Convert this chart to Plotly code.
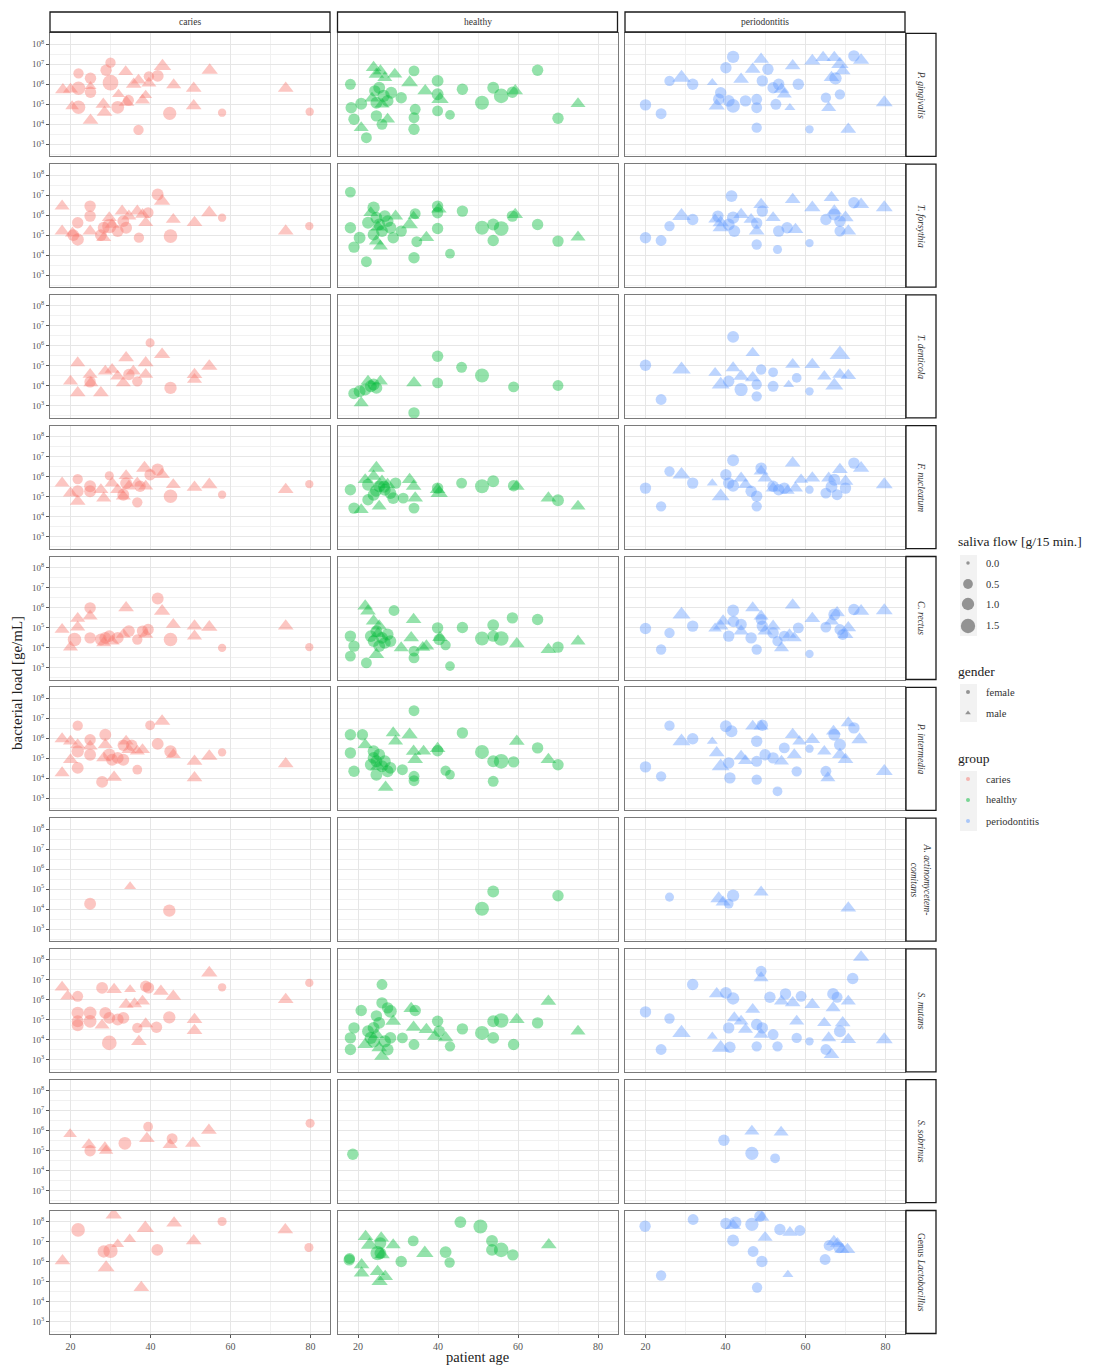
import plotly.graph_objects as go

# ---------------------------------------------------------------------------
# Data: (patient age, log10 bacterial load [ge/mL], saliva flow [g/15 min], gender)
# ---------------------------------------------------------------------------
GROUPS = ["caries", "healthy", "periodontitis"]
GROUP_COLORS = ["#F8766D", "#00BA38", "#619CFF"]

PG_CARIES = [(18.1,5.72,0.9,'m'),(20.0,5.75,0.8,'m'),(20.4,4.9,0.6,'m'),(22,6.55,0.6,'f'),(22,5.8,1.3,'f'),(22,4.85,1.3,'f'),(25,6.3,0.8,'f'),(25,5.6,0.8,'f'),(25,5.9,0.4,'m'),(25,4.2,0.9,'m'),(28.9,6.7,0.8,'f'),(30,7.08,0.6,'f'),(30,6.08,1.9,'f'),(28.2,5.0,0.9,'m'),(28.5,4.6,0.9,'m'),(31.8,4.85,1.1,'f'),(32,5.5,0.5,'m'),(33.8,6.63,0.8,'m'),(34,5.1,0.9,'m'),(34.5,5.2,0.7,'f'),(35.8,6.0,0.9,'m'),(37,6.2,0.8,'m'),(37,3.72,0.6,'f'),(38,5.2,0.8,'m'),(38.8,5.45,0.5,'m'),(39.6,6.4,0.6,'f'),(39.6,6.05,0.8,'m'),(41.8,6.42,0.9,'f'),(43,6.9,1.2,'m'),(44.8,4.55,1.2,'f'),(45.8,5.97,0.8,'m'),(50.8,5.8,0.9,'m'),(50.8,4.92,0.9,'m'),(54.8,6.7,1.0,'m'),(57.9,4.58,0.3,'f'),(73.8,5.8,0.9,'m'),(79.8,4.63,0.3,'f')]
PG_HEALTHY = [(18.1,6.0,0.7,'f'),(18.3,4.83,0.8,'f'),(19,4.25,0.8,'f'),(20.8,5.03,0.9,'f'),(20.8,3.83,0.8,'m'),(22.1,3.33,0.7,'f'),(23.9,6.83,0.9,'m'),(24.6,6.5,0.9,'m'),(24.2,5.67,0.8,'f'),(25.6,6.67,0.8,'m'),(26.7,6.33,0.8,'m'),(29.2,6.5,0.8,'m'),(25.3,5.83,0.9,'f'),(26.4,5.42,1.0,'f'),(27.4,5.17,0.9,'f'),(24.6,5.08,0.9,'f'),(28.3,5.58,0.9,'f'),(27.4,4.25,0.8,'m'),(26,4.0,0.7,'f'),(24.6,4.42,0.8,'f'),(23.5,5.3,0.8,'m'),(26,5.0,0.8,'m'),(30.8,5.33,0.8,'f'),(34,6.67,0.7,'f'),(32.9,6.08,1.1,'m'),(34.3,4.75,0.7,'f'),(34,4.33,0.7,'f'),(34,3.75,0.8,'f'),(36.8,5.67,0.9,'m'),(39.9,6.17,0.9,'f'),(40.5,5.25,1.2,'m'),(39.9,5.5,0.9,'f'),(39.9,4.67,0.7,'f'),(43,4.47,0.5,'f'),(46.1,5.75,0.8,'f'),(51,5.08,1.4,'f'),(53.8,5.83,0.9,'f'),(55.8,5.42,1.6,'f'),(58.6,5.6,0.8,'f'),(59.3,5.67,0.9,'m'),(64.9,6.7,0.8,'f'),(70,4.3,0.8,'f'),(75,5.03,0.8,'m')]
PG_PERIO = [(20,4.97,0.8,'f'),(23.9,4.53,0.7,'f'),(26,6.17,0.6,'f'),(29,6.33,1.4,'m'),(31.8,6.0,0.8,'f'),(36.7,6.08,0.3,'m'),(38.3,5.25,0.8,'f'),(38.8,5.58,0.8,'f'),(37.8,4.92,1.0,'m'),(40.8,5.17,0.9,'f'),(40.1,6.83,0.8,'f'),(41.9,7.37,1.0,'f'),(41.9,4.92,1.3,'f'),(43.9,6.25,0.9,'m'),(45,5.17,0.8,'f'),(47.8,5.25,0.7,'f'),(47.8,4.83,0.7,'f'),(47.8,3.83,0.6,'f'),(46.8,6.75,0.9,'m'),(48.9,7.25,0.9,'m'),(49.2,6.17,0.8,'f'),(50.6,6.75,0.8,'f'),(51.9,5.83,0.8,'f'),(52.6,5.0,0.7,'f'),(54,5.75,0.9,'m'),(54.7,5.5,0.8,'m'),(53.3,6.0,0.8,'f'),(56.8,6.92,0.9,'m'),(56.1,4.83,0.3,'m'),(58.2,6.0,0.8,'f'),(61,3.75,0.3,'f'),(61.7,7.17,1.0,'m'),(64.4,7.33,0.9,'m'),(67.2,7.33,0.9,'m'),(65.1,5.33,0.6,'f'),(68.6,5.5,0.6,'f'),(67.5,6.3,1.0,'f'),(65.8,4.83,0.8,'m'),(66.5,6.33,0.9,'m'),(68.6,7.0,1.2,'m'),(69.3,6.67,0.9,'m'),(70.7,3.75,0.9,'m'),(72.1,7.42,0.8,'f'),(73.9,7.2,1.0,'m'),(79.7,5.08,1.1,'m')]

TF_CARIES = [(17.9,6.45,0.8,'m'),(17.9,5.2,0.8,'m'),(20.7,5.0,0.9,'f'),(21.8,4.78,1.0,'f'),(20.5,5.1,0.8,'m'),(21.8,5.62,0.8,'f'),(24.9,6.45,0.8,'f'),(24.9,5.95,0.8,'f'),(24.9,5.2,0.8,'m'),(27.6,5.0,0.9,'f'),(28.3,5.37,0.9,'f'),(28.3,4.87,0.8,'m'),(29.7,5.87,0.8,'m'),(30.4,5.53,0.8,'m'),(29.7,5.45,1.5,'f'),(31.8,5.2,0.9,'f'),(33.2,5.7,0.9,'f'),(33.9,5.37,0.9,'f'),(32.9,6.2,0.8,'m'),(34.6,5.95,0.8,'m'),(36.7,6.2,0.8,'m'),(38,6.03,0.8,'m'),(37.1,4.87,0.6,'f'),(39.4,6.12,0.7,'f'),(38.8,5.62,0.8,'m'),(41.8,7.03,0.9,'f'),(42.9,6.7,1.0,'m'),(45.7,5.78,0.8,'m'),(45,4.95,1.3,'f'),(51,5.62,0.9,'m'),(54.7,6.12,1.0,'m'),(57.9,5.87,0.3,'f'),(73.8,5.2,0.9,'m'),(79.7,5.45,0.3,'f')]
TF_HEALTHY = [(18.1,7.15,0.7,'f'),(18.1,5.37,0.8,'f'),(19,4.4,0.8,'f'),(20.4,4.87,0.9,'f'),(22.1,3.67,0.7,'f'),(23.2,6.12,0.8,'m'),(23.9,6.37,1.0,'f'),(24.6,5.87,0.9,'f'),(25.3,5.53,0.9,'f'),(26,5.2,0.9,'f'),(23.9,5.03,0.9,'f'),(26.7,5.95,0.9,'f'),(27.4,5.7,0.9,'f'),(28.1,5.37,0.9,'f'),(28.8,4.87,0.8,'f'),(24.6,4.7,0.8,'m'),(25.6,4.45,0.8,'m'),(22.5,5.62,0.9,'f'),(29.4,5.95,0.8,'m'),(25,5.4,0.9,'m'),(30.8,5.2,0.8,'f'),(32.9,5.53,1.1,'m'),(33.9,5.95,0.4,'m'),(34.3,6.07,0.7,'f'),(34.7,4.67,0.7,'f'),(34,3.87,0.8,'f'),(37.1,4.87,0.9,'m'),(39.9,6.45,0.8,'f'),(39.9,6.12,0.8,'f'),(40.2,6.3,0.9,'m'),(39.9,5.33,0.8,'f'),(43,4.07,0.5,'f'),(46.1,6.2,0.8,'f'),(51,5.37,1.4,'f'),(53.8,5.53,0.9,'f'),(53.8,4.73,0.8,'f'),(55.8,5.33,1.6,'f'),(58.6,5.95,0.8,'f'),(59.3,6.03,0.9,'m'),(64.9,5.53,0.8,'f'),(70,4.7,0.8,'f'),(75,4.9,0.8,'m')]
TF_PERIO = [(20,4.87,0.8,'f'),(23.9,4.73,0.7,'f'),(26,5.45,0.6,'f'),(29,5.95,1.4,'m'),(31.8,5.78,0.8,'f'),(37.4,5.78,0.6,'m'),(38.8,5.62,1.0,'m'),(38.8,5.37,1.0,'m'),(38.1,5.95,0.8,'f'),(41.5,6.95,0.9,'f'),(41.9,5.87,1.0,'f'),(40.8,5.53,0.9,'f'),(42.2,5.2,0.9,'f'),(43.9,6.03,0.9,'m'),(46.4,5.78,0.8,'m'),(47.8,5.2,0.9,'m'),(47.8,4.53,0.6,'f'),(48.9,6.53,0.9,'m'),(49.2,6.2,0.8,'f'),(47.8,5.6,0.8,'f'),(51.9,5.87,0.8,'m'),(53.3,5.2,0.8,'f'),(55.4,5.37,0.8,'f'),(53,4.28,0.4,'f'),(56.8,6.78,0.9,'m'),(57.5,5.28,0.9,'m'),(61,4.6,0.3,'f'),(61.7,6.37,1.0,'m'),(65.1,5.78,0.8,'f'),(67.2,6.03,0.9,'f'),(68.6,5.7,0.8,'f'),(66.5,6.87,0.9,'m'),(67.2,6.2,0.9,'m'),(70,5.87,1.0,'m'),(68.6,5.2,0.7,'f'),(70.7,5.2,0.9,'m'),(72.1,6.62,0.8,'f'),(73.9,6.53,1.0,'m'),(79.7,6.37,1.1,'m')]

TD_CARIES = [(20,4.23,0.8,'m'),(21.8,5.15,0.8,'m'),(21.8,3.65,0.9,'m'),(24.9,4.57,0.8,'m'),(25.1,4.15,0.8,'m'),(24.9,4.2,0.8,'f'),(27.6,3.65,0.9,'m'),(28.7,4.73,0.8,'m'),(30.4,4.82,0.8,'m'),(31.8,4.48,0.8,'m'),(33.2,4.15,0.8,'m'),(33.9,5.4,0.9,'m'),(34.6,4.57,0.8,'f'),(36.7,4.23,0.6,'f'),(35.7,4.73,0.8,'m'),(38.8,4.57,0.8,'m'),(39.9,6.15,0.4,'f'),(38.8,5.15,0.9,'m'),(42.9,5.57,1.0,'m'),(45,3.9,1.0,'f'),(51,4.57,0.9,'m'),(51,4.32,0.8,'m'),(54.7,4.98,1.0,'m')]
TD_HEALTHY = [(19,3.62,0.8,'f'),(20.8,3.15,0.8,'m'),(21.8,3.82,0.9,'f'),(23.2,3.98,0.9,'f'),(23.9,4.07,0.9,'f'),(24.6,3.9,0.9,'f'),(22.5,4.23,0.8,'m'),(25.6,4.23,0.8,'m'),(20.4,3.73,0.9,'f'),(34,4.15,0.9,'m'),(34,2.65,0.8,'f'),(39.9,5.48,0.8,'f'),(39.9,4.15,0.7,'f'),(45.9,4.93,0.7,'f'),(51,4.52,1.4,'f'),(58.9,3.95,0.7,'f'),(70,4.02,0.7,'f')]
TD_PERIO = [(20,5.03,0.8,'f'),(23.9,3.32,0.7,'f'),(29,4.82,1.4,'m'),(37.4,4.65,0.6,'m'),(38.8,4.07,1.3,'m'),(40.8,4.23,0.8,'f'),(41.9,6.45,0.9,'f'),(41.9,4.9,0.8,'m'),(43.9,4.48,0.9,'m'),(43.9,3.82,1.2,'f'),(46.8,5.65,0.7,'m'),(46.8,4.4,0.9,'m'),(47.8,3.48,0.6,'f'),(48.9,4.82,0.6,'f'),(51.9,4.68,0.5,'f'),(51.9,3.98,0.7,'f'),(47.8,4.07,0.6,'f'),(55.8,4.07,0.3,'m'),(57.8,4.4,0.5,'f'),(56.8,5.07,0.8,'m'),(61,3.73,0.3,'f'),(61.7,5.07,0.9,'m'),(64.7,4.48,0.7,'m'),(67.2,4.02,1.3,'m'),(68.6,5.57,1.9,'m'),(68.6,4.57,0.8,'m'),(70.7,4.52,0.9,'m')]

FN_CARIES = [(17.9,5.68,0.8,'m'),(20,5.18,0.8,'m'),(21.8,5.88,0.6,'f'),(21.8,4.77,0.9,'m'),(21.8,5.27,0.9,'f'),(24.9,5.52,0.9,'f'),(24.9,5.27,0.9,'f'),(27.6,5.35,0.8,'m'),(28.3,4.93,0.8,'m'),(29.7,6.05,0.4,'f'),(30.4,5.68,0.8,'m'),(31.8,5.35,0.8,'m'),(33.2,5.02,0.8,'m'),(33.2,5.1,0.9,'f'),(33.9,5.68,0.9,'f'),(33.9,6.05,0.8,'m'),(34.6,5.52,0.8,'m'),(36.7,5.68,0.8,'m'),(38.5,6.43,1.1,'m'),(36.7,4.72,0.6,'f'),(37.4,5.52,0.8,'f'),(39.9,6.1,0.8,'f'),(41.8,6.35,1.0,'f'),(38.8,5.52,0.8,'m'),(42.9,6.1,0.9,'m'),(45,5.02,1.3,'f'),(45.7,5.6,0.8,'m'),(51,5.47,0.9,'m'),(54.7,5.6,1.0,'m'),(57.9,5.1,0.3,'f'),(73.8,5.35,0.9,'m'),(79.7,5.63,0.3,'f')]
FN_HEALTHY = [(18.1,5.35,0.8,'f'),(19,4.43,0.8,'f'),(20.8,4.35,0.8,'m'),(21.8,5.85,0.8,'m'),(22.5,5.6,0.9,'f'),(23.9,6.02,0.9,'m'),(24.6,6.43,1.1,'m'),(25.3,5.52,0.9,'f'),(26,5.77,0.9,'m'),(26.7,5.35,0.9,'f'),(27.4,5.6,0.9,'m'),(28.1,5.18,0.9,'f'),(23.9,5.1,0.9,'f'),(22.5,4.85,0.8,'f'),(25.3,4.52,0.8,'m'),(28.8,4.93,0.9,'f'),(29.4,5.68,0.8,'f'),(24.5,5.3,0.9,'f'),(26.5,5.5,0.9,'f'),(32.9,5.85,0.9,'m'),(33.9,5.52,0.9,'m'),(34.3,4.93,0.9,'m'),(31.3,4.93,0.7,'f'),(34,4.43,0.7,'f'),(39.9,5.35,0.9,'m'),(40.3,5.18,1.2,'m'),(39.9,5.43,0.8,'f'),(45.9,5.68,0.7,'f'),(51,5.52,1.4,'f'),(53.8,5.77,0.9,'f'),(58.9,5.55,0.8,'f'),(59.7,5.52,0.9,'m'),(67.6,4.93,0.9,'m'),(70,4.82,0.9,'f'),(75,4.52,0.8,'m')]
FN_PERIO = [(20,5.43,0.8,'f'),(23.9,4.52,0.6,'f'),(26,6.27,0.6,'f'),(29,6.1,1.3,'m'),(31.8,5.68,0.8,'f'),(36.7,5.68,0.3,'m'),(38.8,5.02,1.3,'m'),(40.1,6.1,0.8,'f'),(41.9,6.82,0.9,'f'),(41.9,5.55,0.9,'f'),(40.8,5.68,0.8,'f'),(43.9,5.93,0.8,'m'),(45,5.6,0.8,'m'),(46.4,5.27,0.8,'f'),(47.8,5.02,0.8,'f'),(47.8,4.52,0.6,'f'),(48.9,6.43,0.8,'f'),(48.9,6.27,0.8,'m'),(49.9,5.93,0.8,'m'),(51.9,5.43,0.8,'m'),(51.9,5.52,0.8,'f'),(53.3,5.35,0.8,'f'),(54.7,5.43,0.8,'f'),(56.8,6.68,0.9,'m'),(57.5,5.43,0.8,'m'),(55.5,5.3,0.7,'m'),(61,5.35,0.3,'f'),(58.9,5.85,0.7,'m'),(61.7,5.93,0.9,'m'),(65.1,5.18,0.7,'f'),(67.2,5.85,0.9,'f'),(67.9,5.1,0.7,'f'),(65.8,5.93,0.8,'m'),(68.6,6.35,0.9,'m'),(70,5.77,0.9,'m'),(66.5,5.5,0.9,'f'),(70,5.43,0.8,'f'),(72.1,6.68,0.8,'f'),(73.9,6.43,1.0,'m'),(79.7,5.6,1.1,'m')]

CR_CARIES = [(17.9,4.9,0.8,'m'),(20,4.02,0.8,'m'),(21.8,5.45,0.8,'m'),(21.8,5.02,0.8,'m'),(21,4.4,1.3,'f'),(24.9,5.98,0.8,'f'),(24.9,5.57,0.8,'m'),(24.9,4.48,0.8,'f'),(27.6,4.4,0.9,'f'),(28.7,4.48,0.9,'f'),(29.7,4.57,0.9,'f'),(30.4,4.32,0.8,'m'),(31.8,4.48,0.9,'f'),(33.2,4.65,0.8,'m'),(28.3,4.23,0.8,'m'),(33.9,5.98,0.9,'m'),(34.6,4.82,0.9,'f'),(36.7,4.4,0.6,'f'),(38,4.82,0.8,'f'),(38.8,4.65,0.8,'m'),(39.4,4.9,0.8,'f'),(41.8,6.45,0.9,'f'),(42.9,5.82,1.0,'m'),(45.7,5.15,0.8,'m'),(45,4.4,1.3,'f'),(51,5.07,0.9,'m'),(51,4.57,0.8,'m'),(54.7,5.02,1.0,'m'),(57.9,3.98,0.3,'f'),(73.8,5.07,0.9,'m'),(79.7,4.02,0.3,'f')]
CR_HEALTHY = [(21.8,6.07,0.9,'m'),(22.5,5.82,0.9,'m'),(18.1,4.57,0.8,'f'),(18.1,3.57,0.7,'f'),(19,4.07,0.8,'f'),(23.9,5.32,0.9,'m'),(24.6,4.82,0.9,'f'),(25.3,5.07,0.9,'m'),(26,4.48,0.9,'f'),(23.9,4.32,0.9,'f'),(26.7,4.23,0.9,'f'),(23.2,4.57,0.9,'f'),(25.3,4.07,0.9,'f'),(27.4,4.65,0.9,'f'),(28.1,4.32,0.9,'f'),(22.1,3.23,0.7,'f'),(24.6,3.65,0.9,'m'),(25,4.7,0.9,'m'),(29,5.85,0.7,'f'),(30.8,3.98,0.8,'m'),(33.9,5.4,0.9,'m'),(33.3,4.48,0.9,'m'),(34,3.82,0.7,'f'),(34,3.48,0.7,'f'),(37.1,4.07,0.9,'m'),(36.2,4.0,0.8,'m'),(39.9,4.98,0.8,'f'),(40.3,4.4,0.8,'f'),(40.5,4.5,0.9,'m'),(41.9,4.12,0.6,'f'),(43,3.07,0.5,'f'),(46.1,5.0,0.8,'f'),(51,4.45,1.4,'f'),(53.8,5.12,0.9,'f'),(53.8,4.57,0.8,'f'),(55.8,4.45,1.6,'f'),(58.6,5.48,0.8,'f'),(59.7,4.18,0.9,'m'),(64.9,5.4,0.8,'f'),(67.6,3.9,0.9,'m'),(70,4.02,0.8,'f'),(75,4.32,0.8,'m')]
CR_PERIO = [(20,4.95,0.8,'f'),(23.9,3.9,0.6,'f'),(26,4.73,0.6,'f'),(29,5.65,1.3,'m'),(31.8,5.07,0.8,'f'),(37.4,4.95,0.6,'m'),(38.8,5.07,0.9,'m'),(39.4,5.32,0.9,'m'),(41.9,5.85,0.9,'f'),(40.8,4.57,0.8,'f'),(43.9,5.15,0.8,'f'),(42,5.3,0.8,'f'),(43.9,4.82,0.8,'m'),(46.8,5.98,0.8,'m'),(48.9,5.57,0.8,'m'),(46.4,4.48,0.8,'f'),(47.8,3.9,0.6,'f'),(49.2,5.07,0.8,'f'),(48.9,5.4,0.7,'f'),(49.9,4.82,0.8,'m'),(51.9,5.07,0.8,'m'),(51.9,4.73,0.8,'f'),(53,4.32,0.6,'f'),(54.7,4.57,0.7,'f'),(54,3.98,0.8,'m'),(56.8,6.12,0.9,'m'),(57.2,4.48,0.8,'m'),(56,4.65,0.7,'m'),(58.2,4.98,0.7,'f'),(61,3.68,0.3,'f'),(61.7,5.45,0.9,'m'),(65.1,5.02,0.7,'f'),(67.2,5.65,0.9,'f'),(68.6,4.9,0.7,'f'),(66.5,5.32,0.8,'m'),(67.9,5.73,0.9,'m'),(70,4.65,0.9,'m'),(70.7,4.98,0.9,'m'),(69.3,4.65,0.7,'f'),(72.1,5.9,0.8,'f'),(73.9,5.82,1.0,'m'),(79.7,5.85,1.1,'m')]

PI_CARIES = [(17.9,5.97,0.8,'m'),(17.9,4.27,0.8,'m'),(21.8,6.63,0.6,'f'),(20,5.85,0.8,'m'),(21.8,5.68,0.8,'m'),(21.8,5.35,1.0,'f'),(21.8,4.52,0.9,'f'),(20,4.93,0.8,'m'),(24.9,5.93,0.8,'f'),(24.9,5.18,0.9,'f'),(24.9,5.6,0.8,'m'),(28.7,6.18,0.9,'f'),(28.3,5.02,0.8,'m'),(28.7,5.68,0.8,'m'),(27.9,3.82,0.9,'f'),(29.7,5.18,1.0,'f'),(30.4,4.93,0.9,'f'),(31.8,5.02,0.9,'f'),(33.2,4.93,0.9,'f'),(30.9,4.05,0.9,'m'),(33.9,5.85,0.8,'m'),(34.6,5.43,0.8,'m'),(36.7,5.35,0.8,'m'),(38,5.43,0.8,'m'),(33.2,5.65,0.8,'f'),(35.3,5.65,0.8,'f'),(36.7,4.43,0.5,'f'),(39.9,6.65,0.5,'f'),(42.9,6.85,1.0,'m'),(41.8,5.72,0.9,'f'),(45,5.35,1.0,'f'),(45.7,5.18,0.8,'m'),(51,4.85,0.9,'m'),(51,4.02,0.9,'m'),(54.7,5.1,1.0,'m'),(57.9,5.3,0.3,'f'),(73.8,4.72,0.9,'m')]
PI_HEALTHY = [(18.1,6.18,0.8,'f'),(18.1,5.27,0.8,'f'),(19,4.35,0.8,'f'),(21.1,6.18,0.8,'f'),(21.8,5.68,0.8,'m'),(23.9,5.02,0.9,'f'),(24.6,4.85,0.9,'f'),(25.3,5.18,0.9,'f'),(23.2,4.68,0.9,'f'),(26,4.6,0.9,'f'),(26.7,4.85,0.9,'f'),(27.4,4.35,0.9,'f'),(24.6,4.18,0.9,'f'),(28.1,4.52,0.9,'f'),(23.9,5.35,0.9,'f'),(25,4.6,0.9,'m'),(26.9,3.55,0.9,'m'),(28.8,6.27,0.8,'m'),(29.4,5.85,0.8,'m'),(31.1,4.43,0.7,'f'),(32.9,6.18,1.0,'m'),(34,7.38,0.7,'f'),(33.9,5.35,0.9,'m'),(34.3,4.93,0.9,'m'),(34,4.1,0.7,'f'),(34,3.88,0.7,'f'),(36.4,5.35,0.8,'m'),(39.9,5.48,0.9,'m'),(39.9,5.38,0.8,'f'),(41.9,4.38,0.6,'f'),(43,4.18,0.5,'f'),(46.1,6.27,0.8,'f'),(51,5.32,1.4,'f'),(53.8,4.85,0.9,'f'),(53.8,3.85,0.7,'f'),(55.8,4.85,1.6,'f'),(58.9,4.82,0.8,'f'),(59.7,5.85,0.9,'m'),(64.9,5.52,0.8,'f'),(67.6,4.93,0.9,'m'),(70,4.68,0.8,'f')]
PI_PERIO = [(20,4.57,0.8,'f'),(23.9,4.1,0.6,'f'),(26,6.63,0.6,'f'),(29,5.85,1.3,'m'),(31.8,5.98,0.8,'f'),(36.7,5.85,0.3,'m'),(37.8,5.27,0.9,'m'),(38.8,4.6,1.3,'m'),(40.1,6.6,0.9,'f'),(41.5,6.35,0.9,'f'),(40.8,4.77,0.8,'f'),(41.1,4.02,0.8,'f'),(43.9,5.1,0.8,'m'),(45,4.88,0.8,'m'),(46.8,6.6,0.8,'m'),(48.9,6.6,0.8,'m'),(47.8,4.85,0.7,'f'),(47.8,3.93,0.6,'f'),(49.2,6.65,0.8,'f'),(47.8,5.85,0.8,'f'),(49.9,5.18,0.8,'f'),(51.9,5.02,0.8,'f'),(53,3.35,0.5,'f'),(54,4.85,0.8,'m'),(56.8,6.18,0.9,'m'),(57.2,5.18,0.8,'m'),(54.7,5.52,0.7,'f'),(57.8,4.35,0.6,'f'),(58.5,5.85,0.7,'m'),(61,5.48,0.3,'f'),(61.7,5.93,0.9,'m'),(64.7,5.35,0.7,'m'),(65.1,4.35,0.7,'f'),(67.2,6.18,0.9,'f'),(68.6,5.68,0.9,'f'),(65.6,4.02,0.8,'m'),(67,6.35,0.8,'m'),(68.6,5.18,0.9,'m'),(70,4.93,0.9,'m'),(70.7,6.77,0.8,'m'),(72.1,6.52,0.8,'f'),(73.5,5.93,1.0,'m'),(79.7,4.35,1.1,'m')]

AA_CARIES = [(24.9,4.27,0.9,'f'),(34.9,5.13,0.4,'m'),(44.7,3.92,1.0,'f')]
AA_HEALTHY = [(51,4.02,1.4,'f'),(53.8,4.88,0.9,'f'),(70,4.67,0.8,'f')]
AA_PERIO = [(26,4.6,0.4,'f'),(38.3,4.52,1.1,'m'),(39.4,4.35,0.8,'m'),(41.9,4.67,1.0,'f'),(40.8,4.27,0.5,'f'),(48.9,4.85,0.8,'m'),(70.7,4.05,0.9,'m')]

SM_CARIES = [(17.9,6.63,0.8,'m'),(19.3,6.18,0.8,'m'),(21.8,6.18,0.7,'f'),(21.8,5.35,1.0,'f'),(21.8,4.93,0.9,'f'),(21.8,4.73,0.9,'f'),(24.9,5.35,1.1,'f'),(24.9,4.93,1.1,'f'),(27.9,6.6,0.9,'f'),(30.9,6.52,0.9,'m'),(28.7,5.35,0.9,'f'),(29.7,5.1,0.9,'f'),(31.8,5.02,0.9,'f'),(33.2,5.1,0.9,'f'),(27.9,4.73,0.8,'m'),(29.7,3.85,1.6,'f'),(34.9,6.52,0.4,'m'),(33.9,5.77,0.8,'m'),(36,5.8,0.8,'m'),(38,5.93,0.8,'m'),(38.8,6.68,0.8,'f'),(39.5,6.6,0.8,'f'),(37.1,3.92,0.9,'m'),(38.8,4.8,0.8,'m'),(36.7,4.6,0.6,'f'),(41.5,4.63,0.8,'f'),(42.6,6.43,0.9,'m'),(45.7,6.18,0.9,'m'),(44.7,5.13,1.0,'f'),(51,5.02,0.9,'m'),(51,4.47,0.9,'m'),(54.7,7.35,1.0,'m'),(57.9,6.63,0.3,'f'),(73.8,6.02,0.9,'m'),(79.7,6.85,0.3,'f')]
SM_HEALTHY = [(20.8,5.47,0.8,'f'),(18.1,4.1,0.8,'f'),(18.1,3.52,0.8,'f'),(19,4.6,0.8,'f'),(22.5,4.43,0.9,'f'),(23.2,4.1,1.0,'f'),(23.9,3.93,1.0,'f'),(24.6,4.27,0.9,'m'),(25.3,3.6,0.9,'m'),(26,3.18,0.9,'m'),(26.7,3.93,1.0,'f'),(27.4,3.52,0.9,'f'),(23.9,4.6,0.9,'f'),(28.1,4.1,0.9,'f'),(21.8,3.77,0.9,'m'),(25.3,4.85,0.9,'f'),(26,6.77,0.7,'f'),(26,5.85,0.8,'f'),(27.4,5.6,0.8,'f'),(28.1,5.43,1.1,'f'),(28.8,4.93,0.9,'m'),(24.6,5.2,0.8,'f'),(31.1,4.1,0.7,'f'),(33.3,5.57,0.9,'m'),(34.3,5.47,0.8,'f'),(33.9,4.63,0.9,'m'),(37.1,4.52,0.9,'m'),(39.2,4.18,0.9,'m'),(34,3.77,0.7,'f'),(39.9,4.93,0.8,'f'),(40.3,4.43,0.8,'f'),(41.9,4.1,0.9,'m'),(43,3.68,0.6,'f'),(46.1,4.55,0.8,'f'),(51,4.35,1.4,'f'),(53.8,4.1,0.9,'f'),(53.8,4.93,0.9,'f'),(55.8,4.97,1.6,'f'),(59.7,5.02,0.9,'m'),(58.9,3.77,0.8,'f'),(64.9,4.85,0.8,'f'),(67.6,5.93,0.9,'m'),(75,4.43,0.8,'m')]
SM_PERIO = [(20,5.4,0.8,'f'),(23.9,3.52,0.7,'f'),(26,5.07,0.6,'f'),(29,4.35,1.4,'m'),(31.8,6.77,0.8,'f'),(36.7,4.18,0.3,'m'),(37.8,6.3,0.9,'m'),(38.8,3.6,1.3,'m'),(40.1,6.35,0.9,'f'),(41.9,6.07,1.0,'f'),(40.8,4.6,0.8,'f'),(41.1,3.63,0.8,'f'),(42.2,5.1,0.8,'m'),(43.9,4.93,0.8,'m'),(45,4.52,0.8,'m'),(46.8,5.52,0.8,'m'),(48.9,7.1,0.8,'m'),(48.9,4.27,0.8,'m'),(48.9,7.43,0.7,'f'),(47.8,4.77,0.8,'f'),(47.8,3.68,0.6,'f'),(49.2,4.6,0.8,'f'),(51.1,6.13,0.8,'f'),(51.9,4.27,0.7,'f'),(53,3.68,0.6,'f'),(54,5.93,0.8,'m'),(56.8,5.85,0.9,'m'),(57.8,4.93,0.8,'m'),(55,6.3,0.8,'f'),(57.8,4.1,0.6,'f'),(58.9,6.18,0.7,'f'),(61.7,5.77,0.9,'m'),(64.7,4.85,0.7,'m'),(66.9,5.6,0.8,'m'),(61,3.93,0.3,'f'),(65.1,3.52,0.7,'f'),(66.9,6.3,0.9,'f'),(67.9,6.13,0.7,'f'),(68.6,4.43,0.9,'f'),(65.8,4.1,0.8,'m'),(66.5,3.27,0.9,'m'),(69.3,4.85,0.9,'m'),(70.7,5.93,0.8,'m'),(70.7,4.02,0.9,'m'),(71.8,7.07,0.8,'f'),(73.9,8.13,1.0,'m'),(79.7,4.02,1.1,'m')]

SS_CARIES = [(19.9,5.83,0.6,'m'),(24.6,5.3,0.8,'m'),(24.9,5.0,0.8,'f'),(28.6,5.15,0.8,'m'),(28.9,5.0,0.7,'m'),(33.6,5.37,1.1,'f'),(39.4,6.2,0.5,'f'),(39.1,5.6,0.9,'m'),(44.9,5.3,0.8,'m'),(45.4,5.6,0.7,'f'),(50.6,5.37,0.9,'m'),(54.6,6.02,0.9,'m'),(79.9,6.37,0.4,'f')]
SS_HEALTHY = [(18.7,4.82,0.8,'f')]
SS_PERIO = [(39.6,5.52,0.8,'f'),(46.6,5.97,0.8,'m'),(46.6,4.87,1.2,'f'),(53.9,5.92,0.8,'m'),(52.4,4.62,0.5,'f')]

LB_CARIES = [(18,6.03,0.9,'m'),(21.9,7.58,1.3,'f'),(30.8,8.33,1.0,'m'),(31.8,6.87,0.5,'m'),(28.3,6.5,1.0,'f'),(30,6.53,1.5,'f'),(28.9,5.7,1.1,'m'),(34.8,7.12,0.5,'m'),(38.7,7.67,1.2,'m'),(37.7,4.7,0.9,'m'),(41.7,6.58,0.9,'f'),(45.9,7.92,0.9,'m'),(50.8,7.03,0.9,'m'),(57.9,8.0,0.4,'f'),(73.7,7.58,0.9,'m'),(79.6,6.7,0.4,'f')]
LB_HEALTHY = [(17.8,6.08,0.8,'f'),(17.9,6.15,0.7,'f'),(21.9,7.25,0.9,'m'),(20.9,5.83,0.9,'m'),(20.9,5.42,0.9,'m'),(22.9,6.83,1.2,'m'),(24.9,5.5,0.9,'m'),(25.4,5.0,1.0,'m'),(26.8,5.25,0.9,'m'),(25.8,7.17,0.9,'m'),(25.6,6.92,0.9,'f'),(25.6,6.42,0.9,'f'),(24.9,6.42,1.5,'f'),(26,6.33,0.9,'m'),(28.8,6.83,0.8,'m'),(30.8,6.0,0.8,'f'),(33.8,7.03,0.7,'f'),(36.7,6.42,1.2,'m'),(41.9,6.47,0.9,'f'),(42.9,5.95,0.6,'f'),(45.6,7.97,0.9,'f'),(50.6,7.75,1.4,'f'),(53.5,7.03,0.9,'f'),(53.5,6.58,0.9,'f'),(55.8,6.58,1.6,'f'),(58.7,6.33,0.8,'f'),(67.7,6.83,0.9,'m')]
LB_PERIO = [(19.9,7.76,0.8,'f'),(23.9,5.3,0.6,'f'),(31.9,8.1,0.7,'f'),(40.1,7.9,0.8,'f'),(41.9,7.8,0.9,'m'),(41.9,7.05,0.9,'f'),(42.5,7.95,0.9,'f'),(46.6,7.86,1.2,'f'),(48.6,8.26,0.8,'f'),(49.1,8.2,0.8,'m'),(46.9,6.5,0.7,'f'),(49.1,6.0,0.8,'f'),(47.9,4.7,0.6,'f'),(49.9,7.2,0.8,'m'),(53.6,7.6,0.8,'f'),(58.6,7.55,0.7,'f'),(56.1,7.45,0.8,'m'),(55.6,5.35,0.3,'m'),(67.1,7.0,0.9,'m'),(68,6.9,0.8,'m'),(65.9,6.8,0.7,'f'),(64.9,6.1,0.7,'f'),(69.1,6.6,0.8,'m'),(70.5,6.6,0.9,'m'),(68.4,6.7,0.8,'f')]

SPECIES = [
    ("<i>P. gingivalis</i>", PG_CARIES, PG_HEALTHY, PG_PERIO),
    ("<i>T. forsythia</i>", TF_CARIES, TF_HEALTHY, TF_PERIO),
    ("<i>T. denticola</i>", TD_CARIES, TD_HEALTHY, TD_PERIO),
    ("<i>F. nucleatum</i>", FN_CARIES, FN_HEALTHY, FN_PERIO),
    ("<i>C. rectus</i>", CR_CARIES, CR_HEALTHY, CR_PERIO),
    ("<i>P. intermedia</i>", PI_CARIES, PI_HEALTHY, PI_PERIO),
    ("<i>A. actinomycetem-</i><br><i>comitans</i>", AA_CARIES, AA_HEALTHY, AA_PERIO),
    ("<i>S. mutans</i>", SM_CARIES, SM_HEALTHY, SM_PERIO),
    ("<i>S. sobrinus</i>", SS_CARIES, SS_HEALTHY, SS_PERIO),
    ("Genus <i>Lactobacillus</i>", LB_CARIES, LB_HEALTHY, LB_PERIO),
]

FLOW_LEGEND = [0.0, 0.5, 1.0, 1.5]
GENDERS = ["female", "male"]
Y_TICK_EXP = [3, 4, 5, 6, 7, 8]
X_TICKS = [20, 40, 60, 80]

# ---------------------------------------------------------------------------
# Geometry (pixels) and styling
# ---------------------------------------------------------------------------
W, H = 1098, 1367
COL_L = [50.0, 337.5, 625.0]
PANEL_W = 280.0
ROW_T0, ROW_PITCH, PANEL_H = 33.3, 130.8, 123.0
X_RANGE = [14.875, 84.875]
Y_RANGE = [2.4, 8.55]
FONT = "Liberation Serif"
GRID = "#e6e6e6"
GRID_MINOR = "#f1f1f1"
BORDER = "#7a7a7a"
ALPHA = 0.42


def fx(px):
    return px / W


def fy(py):
    return 1 - py / H


def msize(flow, sym):
    d = 3.5 + 12.5 * (flow / 2.0) ** 0.5
    return d * 1.15 if sym == "m" else d


def note(px, py, text, size, color="#333", angle=0, xanchor="center"):
    annotations.append(dict(xref="paper", yref="paper", x=fx(px), y=fy(py), text=text,
                            textangle=angle, showarrow=False, xanchor=xanchor, yanchor="middle",
                            font=dict(size=size, color=color, family=FONT)))


fig = go.Figure()
layout = dict(
    width=W, height=H, margin=dict(l=0, r=0, t=0, b=0),
    paper_bgcolor="white", plot_bgcolor="rgba(0,0,0,0)",
    showlegend=False, font=dict(family=FONT, color="#222"),
)
shapes, annotations = [], []

for r, (label, *panels) in enumerate(SPECIES):
    top = ROW_T0 + r * ROW_PITCH
    bot = top + PANEL_H
    for c, pts in enumerate(panels):
        n = r * 3 + c + 1
        xs = "x" if n == 1 else f"x{n}"
        ys = "y" if n == 1 else f"y{n}"
        left = COL_L[c]
        layout["xaxis" if n == 1 else f"xaxis{n}"] = dict(
            domain=[fx(left), fx(left + PANEL_W)], anchor=ys, range=X_RANGE,
            tickvals=X_TICKS, showgrid=True, gridcolor=GRID, gridwidth=1.1,
            minor=dict(tickvals=[30, 50, 70], showgrid=True, gridcolor=GRID_MINOR, gridwidth=0.7),
            showline=True, mirror=True, linecolor=BORDER, linewidth=1, zeroline=False,
            ticks="outside" if r == 9 else "", ticklen=3, tickcolor="#555",
            showticklabels=(r == 9), tickfont=dict(size=10, color="#555", family=FONT),
        )
        layout["yaxis" if n == 1 else f"yaxis{n}"] = dict(
            domain=[fy(bot), fy(top)], anchor=xs, type="log", range=Y_RANGE,
            tickvals=[10 ** e for e in Y_TICK_EXP],
            ticktext=[f"10<sup>{e}</sup>" for e in Y_TICK_EXP],
            showgrid=True, gridcolor=GRID, gridwidth=1.1,
            minor=dict(tickvals=[10 ** (e + 0.5) for e in range(2, 9)], showgrid=True,
                       gridcolor=GRID_MINOR, gridwidth=0.7),
            showline=True, mirror=True, linecolor=BORDER, linewidth=1, zeroline=False,
            ticks="outside" if c == 0 else "", ticklen=3, tickcolor="#555",
            showticklabels=(c == 0), tickfont=dict(size=9, color="#555", family=FONT),
        )
        fig.add_trace(go.Scatter(
            x=[p[0] for p in pts], y=[10 ** p[1] for p in pts], mode="markers",
            xaxis=xs, yaxis=ys, hoverinfo="skip",
            marker=dict(
                symbol=["triangle-up" if p[3] == "m" else "circle" for p in pts],
                size=[msize(p[2], p[3]) for p in pts],
                color=GROUP_COLORS[c], opacity=ALPHA, line=dict(width=0),
            ),
        ))
    # right-hand strip with the species name
    shapes.append(dict(type="rect", xref="paper", yref="paper",
                       x0=fx(906), x1=fx(936), y0=fy(bot), y1=fy(top),
                       line=dict(color="#1a1a1a", width=1.3), fillcolor="white"))
    note(921, (top + bot) / 2, label, 9.5, angle=90)

# top strips with the group names
for c, g in enumerate(GROUPS):
    shapes.append(dict(type="rect", xref="paper", yref="paper",
                       x0=fx(COL_L[c]), x1=fx(COL_L[c] + PANEL_W), y0=fy(32), y1=fy(12),
                       line=dict(color="#1a1a1a", width=1.3), fillcolor="white"))
    note(COL_L[c] + PANEL_W / 2, 22, g, 9.5)

# axis titles
note(477, 1357, "patient age", 14.5, color="#222")
note(17, 683, "bacterial load [ge/mL]", 15, color="#222", angle=-90)

# ---------------------------------------------------------------------------
# Legend (drawn on an overlay axis measured in pixels)
# ---------------------------------------------------------------------------
layout["xaxis31"] = dict(domain=[0, 1], range=[0, W], visible=False, anchor="y31")
layout["yaxis31"] = dict(domain=[0, 1], range=[H, 0], visible=False, anchor="x31")
KEY_X, LABEL_X, TITLE_X = 968, 984, 956


def key_box(y0, y1):
    shapes.append(dict(type="rect", xref="paper", yref="paper", x0=fx(960), x1=fx(977),
                       y0=fy(y1), y1=fy(y0), line=dict(width=0), fillcolor="#f2f2f2", layer="below"))


note(TITLE_X, 541, "saliva flow [g/15 min.]", 13.5, color="#222", xanchor="left")
flow_y = [563, 584, 604, 626]
key_box(555, 636)
fig.add_trace(go.Scatter(x=[KEY_X] * 4, y=flow_y, mode="markers", xaxis="x31", yaxis="y31",
                         hoverinfo="skip",
                         marker=dict(symbol="circle", size=[msize(f, "f") for f in FLOW_LEGEND],
                                     color="#888", opacity=0.9, line=dict(width=0))))
for f, py in zip(FLOW_LEGEND, flow_y):
    note(LABEL_X, py, f"{f:.1f}", 10.5, xanchor="left")

note(TITLE_X, 671, "gender", 13.5, color="#222", xanchor="left")
gender_y = [692, 713]
key_box(684, 722)
fig.add_trace(go.Scatter(x=[KEY_X] * 2, y=gender_y, mode="markers", xaxis="x31", yaxis="y31",
                         hoverinfo="skip",
                         marker=dict(symbol=["circle", "triangle-up"], size=[4, 5],
                                     color="#888", opacity=0.9, line=dict(width=0))))
for g, py in zip(GENDERS, gender_y):
    note(LABEL_X, py, g, 10.5, xanchor="left")

note(TITLE_X, 758, "group", 13.5, color="#222", xanchor="left")
group_y = [779, 800, 821]
key_box(771, 831)
fig.add_trace(go.Scatter(x=[KEY_X] * 3, y=group_y, mode="markers", xaxis="x31", yaxis="y31",
                         hoverinfo="skip",
                         marker=dict(symbol="circle", size=4, color=GROUP_COLORS,
                                     opacity=0.5, line=dict(width=0))))
for g, py in zip(GROUPS, group_y):
    note(LABEL_X, py, g, 10.5, xanchor="left")

layout["shapes"] = shapes
layout["annotations"] = annotations
fig.update_layout(**layout)
fig.write_html("out.html")
